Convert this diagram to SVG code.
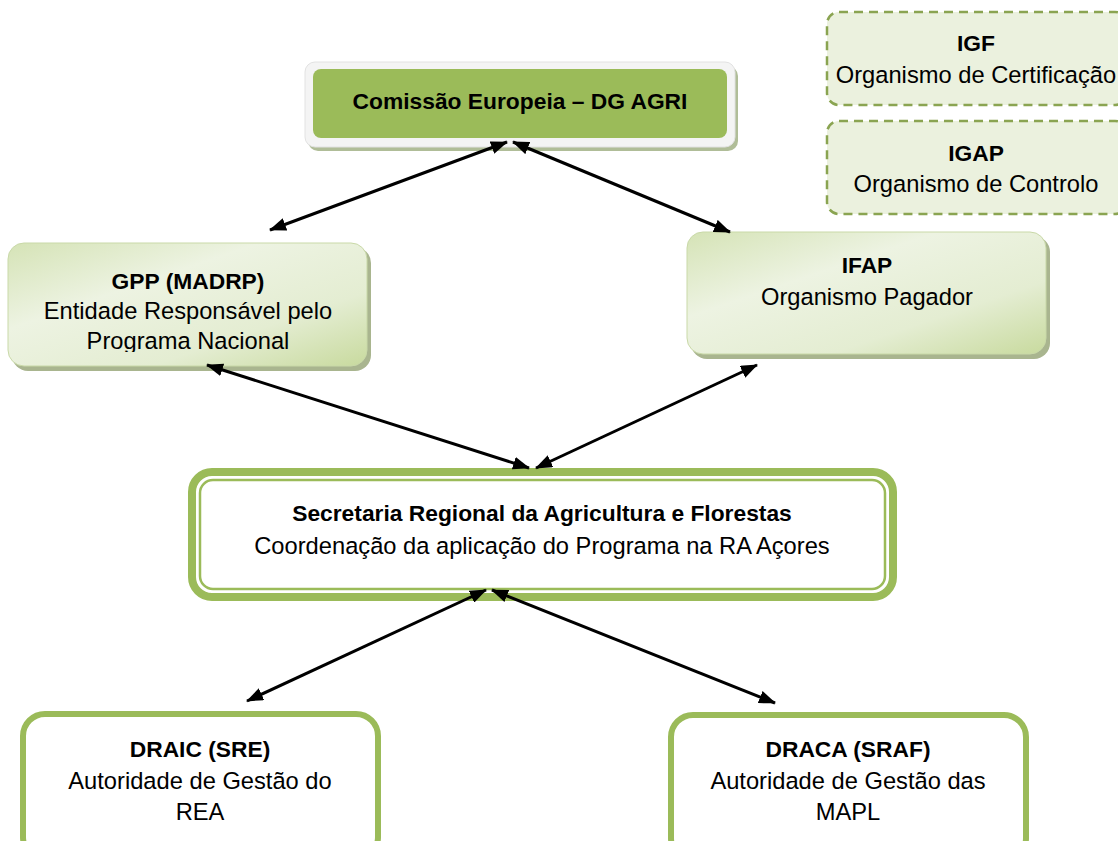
<svg xmlns="http://www.w3.org/2000/svg" width="1118" height="841" viewBox="0 0 1118 841">
<style>
text{font-family:"Liberation Sans",Arial,sans-serif;fill:#000;text-anchor:middle}
.b{font-weight:bold;font-size:22.8px}
.r{font-size:23.7px}
.conn{stroke:#000;stroke-width:3;fill:none;marker-start:url(#ah);marker-end:url(#ah)}
.dash{fill:#ebf1de;stroke:#8aa451;stroke-width:2.5;stroke-dasharray:9 6}
.grad{fill:url(#g1);stroke:#c9d9a8;stroke-width:1}
.shadow{fill:#a9b58f}
.thick{fill:#fff;stroke:#9bbb59;stroke-width:6}
</style>
<defs>
<linearGradient id="g1" x1="0" y1="0" x2="1" y2="1">
<stop offset="0" stop-color="#d5e3b6"/>
<stop offset="0.35" stop-color="#edf3e2"/>
<stop offset="0.7" stop-color="#e4edd2"/>
<stop offset="1" stop-color="#c8da9e"/>
</linearGradient>
<marker id="ah" viewBox="0 0 17 13" refX="16" refY="6.5" markerWidth="17" markerHeight="13" markerUnits="userSpaceOnUse" orient="auto-start-reverse">
<path d="M0,0 L17,6.5 L0,13 z" fill="#000"/>
</marker>
<clipPath id="gppclip"><rect x="0" y="230" width="380" height="122"/></clipPath>
</defs>
<rect width="1118" height="841" fill="#fff"/>

<g id="comissao">
<rect x="308" y="66" width="430" height="85" rx="10" fill="#b0bd98"/>
<rect x="305" y="62" width="430" height="85" rx="10" fill="#f4f4f4" stroke="#e2e2e2" stroke-width="1"/>
<rect x="313" y="69" width="414" height="69" rx="8" fill="#9bbb59"/>
<text class="b" x="520" y="109">Comissão Europeia – DG AGRI</text>
</g>

<g id="igf">
<rect class="dash" x="827" y="12" width="300" height="93" rx="12"/>
<text class="b" x="976" y="51">IGF</text>
<text class="r" x="976" y="83">Organismo de Certificação</text>
</g>

<g id="igap">
<rect class="dash" x="827" y="121" width="300" height="93" rx="12"/>
<text class="b" x="976" y="161">IGAP</text>
<text class="r" x="976" y="192">Organismo de Controlo</text>
</g>

<g id="gpp">
<rect class="shadow" x="12" y="247" width="359" height="124" rx="16"/>
<rect class="grad" x="8" y="243" width="359" height="123" rx="16"/>
<text class="b" x="188" y="289">GPP (MADRP)</text>
<text class="r" x="188" y="319">Entidade Responsável pelo</text>
<text class="r" x="188" y="349" clip-path="url(#gppclip)">Programa Nacional</text>
</g>

<g id="ifap">
<rect class="shadow" x="691" y="236" width="359" height="123" rx="16"/>
<rect class="grad" x="687" y="232" width="359" height="122" rx="16"/>
<text class="b" x="867" y="273">IFAP</text>
<text class="r" x="867" y="305">Organismo Pagador</text>
</g>

<g id="secretaria">
<rect x="192" y="472" width="701" height="125" rx="20" fill="#fff" stroke="#9bbb59" stroke-width="8"/>
<rect x="200" y="480" width="685" height="109" rx="13" fill="none" stroke="#9bbb59" stroke-width="2.5"/>
<text class="b" x="542" y="521">Secretaria Regional da Agricultura e Florestas</text>
<text class="r" x="542" y="554">Coordenação da aplicação do Programa na RA Açores</text>
</g>

<g id="draic">
<rect class="thick" x="23" y="714" width="355" height="145" rx="22"/>
<text class="b" x="200" y="757">DRAIC (SRE)</text>
<text class="r" x="200" y="789">Autoridade de Gestão do</text>
<text class="r" x="200" y="820">REA</text>
</g>

<g id="draca">
<rect class="thick" x="671" y="715" width="355" height="145" rx="22"/>
<text class="b" x="848" y="757">DRACA (SRAF)</text>
<text class="r" x="848" y="789">Autoridade de Gestão das</text>
<text class="r" x="848" y="820">MAPL</text>
</g>

<g id="connectors">
<line class="conn" x1="507" y1="142" x2="270" y2="230"/>
<line class="conn" x1="513" y1="142" x2="730" y2="232"/>
<line class="conn" x1="207" y1="365" x2="529" y2="468"/>
<line class="conn" x1="757" y1="365" x2="536" y2="468"/>
<line class="conn" x1="486" y1="590" x2="247" y2="701"/>
<line class="conn" x1="492" y1="590" x2="775" y2="703"/>
</g>
</svg>
